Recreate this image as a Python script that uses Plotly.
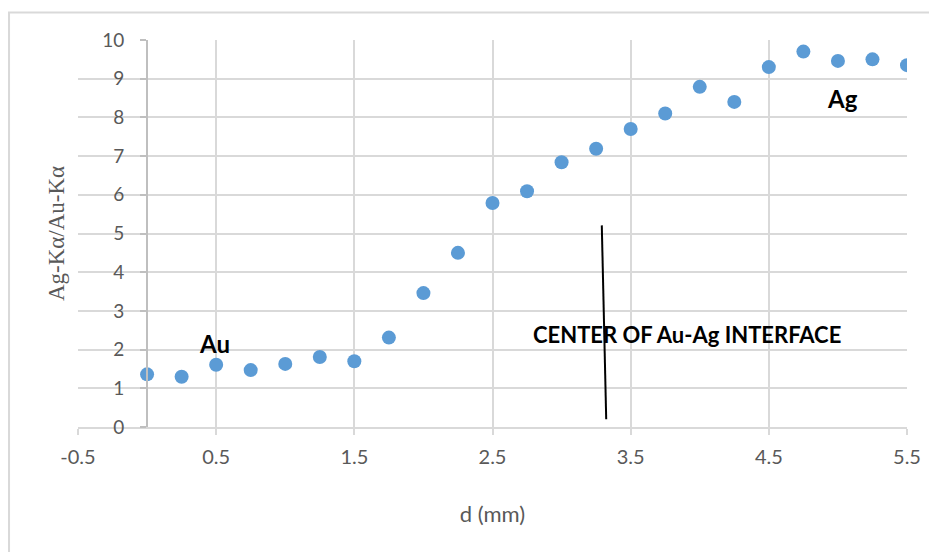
import plotly.graph_objects as go

# Data
d_mm = [0.0, 0.25, 0.5, 0.75, 1.0, 1.25, 1.5, 1.75, 2.0, 2.25, 2.5, 2.75,
        3.0, 3.25, 3.5, 3.75, 4.0, 4.25, 4.5, 4.75, 5.0, 5.25, 5.5]
ratio = [1.36, 1.30, 1.61, 1.47, 1.63, 1.81, 1.70, 2.31, 3.46, 4.50, 5.79, 6.09,
         6.84, 7.19, 7.70, 8.10, 8.79, 8.40, 9.30, 9.70, 9.46, 9.50, 9.35]
x_ticks = [-0.5, 0.5, 1.5, 2.5, 3.5, 4.5, 5.5]
x_tick_labels = ["-0.5", "0.5", "1.5", "2.5", "3.5", "4.5", "5.5"]
y_ticks = list(range(0, 11))
interface_x = [3.291, 3.323]
interface_y = [5.21, 0.20]

GRID = "#d9d9d9"
AXIS = "#bfbfbf"
TXT = "#595959"
FONT = "Lato"

fig = go.Figure()
fig.add_trace(go.Scatter(
    x=d_mm, y=ratio, mode="markers",
    marker=dict(color="#5b9bd5", size=14, line=dict(width=0)),
    showlegend=False, hoverinfo="x+y",
))

fig.add_shape(type="line", xref="x", yref="y",
              x0=interface_x[0], y0=interface_y[0], x1=interface_x[1], y1=interface_y[1],
              line=dict(color="black", width=2))

# outer chart border
fig.add_shape(type="rect", xref="paper", yref="paper",
              x0=-0.0832, x1=1.3, y0=-0.6, y1=1.0711,
              line=dict(color=GRID, width=2), layer="below")

fig.add_annotation(x=3.91, y=2.39, xref="x", yref="y", text="<b>CENTER OF Au-Ag INTERFACE</b>",
                   showarrow=False, font=dict(family=FONT, size=22, color="black"))
fig.add_annotation(x=0.49, y=2.16, xref="x", yref="y", text="<b>Au</b>",
                   showarrow=False, font=dict(family=FONT, size=24, color="black"))
fig.add_annotation(x=5.03, y=8.49, xref="x", yref="y", text="<b>Ag</b>",
                   showarrow=False, font=dict(family=FONT, size=24, color="black"))

fig.update_layout(
    width=937, height=552,
    margin=dict(l=70, r=38, t=32, b=133),
    paper_bgcolor="white", plot_bgcolor="white",
    font=dict(family=FONT, color=TXT, size=19),
    xaxis=dict(
        range=[-0.5, 5.5], tickvals=x_ticks, ticktext=x_tick_labels,
        showgrid=True, gridcolor=GRID, gridwidth=2,
        zeroline=False, showline=True, linecolor=GRID, linewidth=2,
        ticks="outside", ticklen=6, tickcolor=GRID, tickwidth=2,
        ticklabelstandoff=5,
        tickfont=dict(size=20, color=TXT, family=FONT),
        title=dict(text="d (mm)", font=dict(size=22, color=TXT, family=FONT), standoff=40),
    ),
    yaxis=dict(
        range=[0, 10], tickvals=y_ticks,
        anchor="free", position=0.5 / 6.0,
        showgrid=True, gridcolor=GRID, gridwidth=2,
        zeroline=False, showline=True, linecolor=AXIS, linewidth=2,
        ticks="outside", ticklen=6, tickcolor=AXIS, tickwidth=2,
        ticklabelstandoff=12,
        tickfont=dict(size=19, color=TXT, family=FONT),
        title=dict(text="Ag-Kα/Au-Kα", font=dict(size=23, color=TXT, family="Liberation Serif"),
                   standoff=30),
    ),
)

fig.write_html("out.html")
